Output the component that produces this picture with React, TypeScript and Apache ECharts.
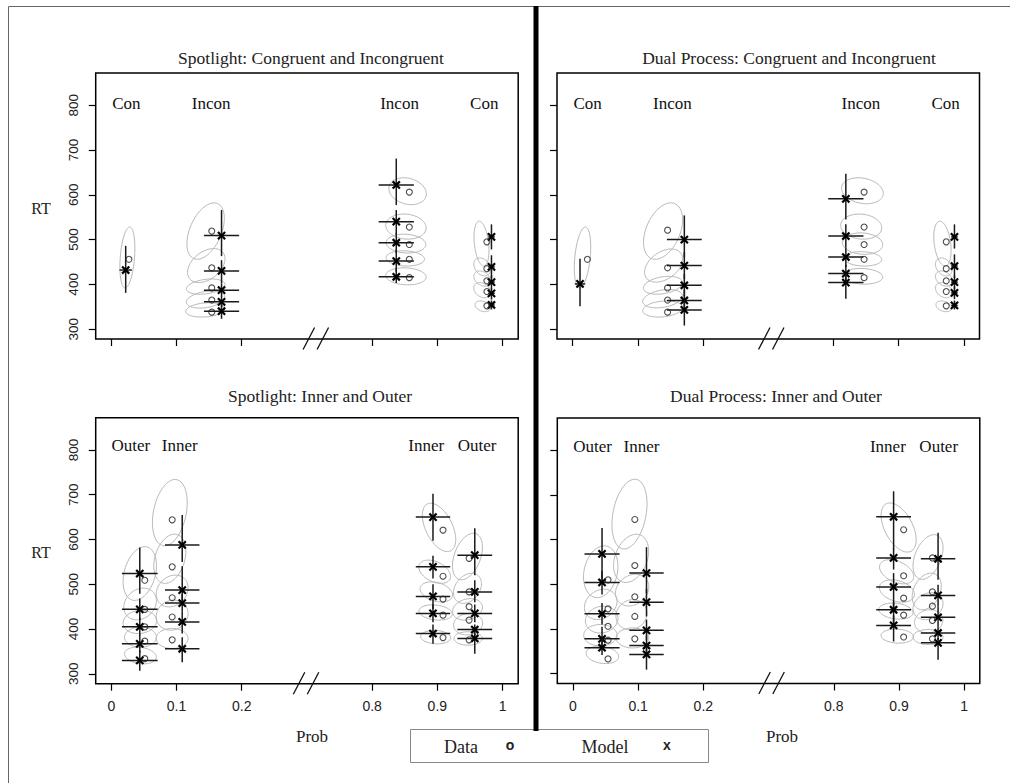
import React, { useEffect, useRef } from "react";
import * as echarts from "echarts";

// ---------- axis ticks ----------
const xTickProbs = [0, 0.1, 0.2, 0.8, 0.9, 1];
const yTickValues = [300, 400, 500, 600, 700, 800];

// ---------- panel titles & group labels ----------
const panelTitles = [
  "Spotlight: Congruent and Incongruent",
  "Dual Process: Congruent and Incongruent",
  "Spotlight: Inner and Outer",
  "Dual Process: Inner and Outer",
];
const ciLabels: [string, number][] = [["Con", 0.023], ["Incon", 0.153], ["Incon", 0.842], ["Con", 0.972]];
const ioLabels: [string, number][] = [["Outer", 0.03], ["Inner", 0.105], ["Inner", 0.883], ["Outer", 0.961]];

// ---------- Panel 1: Spotlight, Congruent / Incongruent ----------
// data circles [prob, RT]
const p1Data: number[][] = [
  [0.027, 456],
  [0.154, 519], [0.154, 437], [0.154, 392], [0.154, 365], [0.154, 338],
  [0.857, 606], [0.857, 528], [0.857, 489], [0.857, 456], [0.857, 415],
  [0.976, 495], [0.976, 435], [0.976, 408], [0.976, 384], [0.976, 352],
];
// model [prob, RT, RTlow, RThigh, probHalfWidth]
const p1Model: number[][] = [
  [0.022, 432, 381, 486, 0.0095],
  [0.169, 509, 463, 566, 0.027], [0.169, 430, 402, 454, 0.027], [0.169, 387, 372, 402, 0.027], [0.169, 361, 349, 373, 0.027], [0.169, 340, 323, 355, 0.027],
  [0.837, 622, 577, 681, 0.027], [0.837, 540, 512, 566, 0.027], [0.837, 493, 470, 515, 0.027], [0.837, 452, 428, 478, 0.027], [0.837, 417, 403, 436, 0.027],
  [0.983, 506, 478, 534, 0.005], [0.983, 439, 414, 465, 0.005], [0.983, 405, 390, 420, 0.005], [0.983, 380, 366, 392, 0.005], [0.983, 354, 344, 364, 0.005],
];
// ellipses [prob, RT, sdProb, sdRT, corr]
const p1Ellipse: number[][] = [
  [0.0246, 460, 0.0115, 68, 0.3],
  [0.1446, 519, 0.0287, 63, 0.45], [0.1456, 442, 0.0287, 38, 0.4], [0.1446, 395, 0.0295, 17, 0.3], [0.1446, 366, 0.0295, 19, 0.3], [0.1441, 343, 0.03, 16, 0.2],
  [0.8544, 608, 0.0287, 30, -0.2], [0.8518, 529, 0.031, 28, -0.1], [0.8518, 491, 0.0305, 21, -0.1], [0.8508, 458, 0.0295, 17, -0.1], [0.8518, 418, 0.031, 19, -0.1],
  [0.9677, 491, 0.0115, 50, -0.3], [0.9687, 439, 0.0128, 20, -0.3], [0.9687, 413, 0.0128, 17, -0.3], [0.9687, 387, 0.0128, 17, -0.3], [0.9697, 351, 0.012, 12, -0.3],
];

// ---------- Panel 2: Dual Process, Congruent / Incongruent ----------
const p2Data: number[][] = [
  [0.0226, 456],
  [0.1456, 521], [0.1456, 437], [0.1456, 392], [0.1456, 365], [0.1456, 338],
  [0.847, 606], [0.847, 528], [0.847, 489], [0.847, 456], [0.847, 415],
  [0.973, 495], [0.973, 435], [0.973, 408], [0.973, 384], [0.973, 352],
];
const p2Model: number[][] = [
  [0.0113, 401, 351, 457, 0.008],
  [0.1713, 500, 460, 554, 0.0267], [0.1713, 442, 412, 472, 0.0267], [0.1713, 398, 373, 423, 0.0267], [0.1713, 364, 340, 388, 0.0267], [0.1713, 343, 308, 366, 0.0267],
  [0.819, 591, 545, 647, 0.027], [0.819, 508, 483, 534, 0.027], [0.819, 461, 439, 483, 0.027], [0.819, 424, 404, 444, 0.027], [0.819, 404, 368, 424, 0.027],
  [0.9856, 506, 480, 534, 0.005], [0.9856, 441, 414, 467, 0.005], [0.9856, 405, 390, 420, 0.005], [0.9856, 381, 367, 395, 0.005], [0.9856, 353, 344, 364, 0.005],
];
const p2Ellipse: number[][] = [
  [0.0151, 460, 0.0126, 68, 0.35],
  [0.1387, 519, 0.03, 63, 0.4], [0.1395, 442, 0.0292, 37, 0.4], [0.1385, 398, 0.03, 20, 0.3], [0.138, 368, 0.0305, 20.5, 0.3], [0.138, 345, 0.0305, 18, 0.2],
  [0.8444, 609, 0.032, 29, -0.2], [0.8426, 529, 0.0315, 28, -0.1], [0.8446, 491, 0.031, 24, -0.1], [0.8451, 457, 0.029, 16, -0.1], [0.8446, 418, 0.031, 17.5, -0.1],
  [0.9672, 491, 0.0133, 50, -0.3], [0.9692, 439, 0.0128, 20, -0.3], [0.9692, 413, 0.0128, 17, -0.3], [0.9692, 387, 0.0128, 17, -0.3], [0.9692, 351, 0.012, 12, -0.3],
];

// ---------- Panel 3: Spotlight, Inner / Outer ----------
const p3Data: number[][] = [
  [0.0513, 509], [0.0513, 444], [0.0513, 405], [0.0513, 373], [0.0513, 334],
  [0.0933, 644], [0.0933, 539], [0.0933, 470], [0.0933, 427], [0.0933, 376],
  [0.9087, 621], [0.9087, 518], [0.9087, 467], [0.9087, 431], [0.9087, 381],
  [0.9487, 558], [0.9487, 483], [0.9487, 450], [0.9487, 420], [0.9487, 376],
];
const p3Model: number[][] = [
  [0.0436, 524, 479, 582, 0.0274], [0.0436, 444, 420, 468, 0.0274], [0.0436, 405, 385, 425, 0.0274], [0.0436, 367, 347, 387, 0.0274], [0.0436, 330, 307, 352, 0.0274],
  [0.1087, 588, 550, 655, 0.0264], [0.1087, 487, 460, 540, 0.0264], [0.1087, 458, 440, 478, 0.0264], [0.1087, 416, 390, 440, 0.0264], [0.1087, 356, 326, 382, 0.0264],
  [0.8933, 650, 597, 702, 0.0264], [0.8933, 539, 513, 564, 0.0264], [0.8933, 473, 445, 500, 0.0264], [0.8933, 435, 415, 455, 0.0264], [0.8933, 390, 367, 410, 0.0264],
  [0.9574, 565, 520, 625, 0.0267], [0.9574, 483, 460, 509, 0.0267], [0.9574, 435, 415, 455, 0.0267], [0.9574, 399, 385, 410, 0.0267], [0.9574, 379, 345, 390, 0.0267],
];
const p3Ellipse: number[][] = [
  [0.0436, 524, 0.0256, 60, 0.3], [0.0441, 456, 0.025, 35.5, 0.2], [0.0436, 416, 0.0256, 26, 0.1], [0.0446, 382, 0.0244, 22.4, 0], [0.0446, 341, 0.0244, 18.7, -0.2],
  [0.0897, 660, 0.0267, 74, 0.3], [0.0897, 557, 0.0246, 55, 0.3], [0.0933, 485, 0.0244, 35.5, 0.2], [0.0933, 431, 0.0244, 33.6, 0.1], [0.0933, 379, 0.0244, 22.4, 0],
  [0.9026, 627, 0.0256, 54, -0.5], [0.8959, 528, 0.0244, 26, -0.4], [0.8985, 483, 0.0249, 22.4, -0.3], [0.8974, 437, 0.0256, 17, -0.2], [0.8974, 382, 0.0231, 15, -0.1],
  [0.9462, 562, 0.023, 52, 0.4], [0.9462, 491, 0.0215, 33.6, 0.3], [0.9462, 444, 0.023, 24, 0.2], [0.9472, 411, 0.0223, 24, 0.1], [0.9472, 379, 0.0218, 15, 0],
];

// ---------- Panel 4: Dual Process, Inner / Outer ----------
const p4Data: number[][] = [
  [0.0538, 510], [0.0538, 445], [0.0538, 406], [0.0538, 375], [0.0538, 333],
  [0.0949, 645], [0.0949, 542], [0.0949, 472], [0.0949, 428], [0.0949, 378],
  [0.9072, 622], [0.9072, 519], [0.9072, 469], [0.9072, 431], [0.9072, 382],
  [0.9513, 559], [0.9513, 483], [0.9513, 451], [0.9513, 419], [0.9513, 378],
];
const p4Model: number[][] = [
  [0.0446, 568, 510, 626, 0.0269], [0.0446, 504, 477, 530, 0.0269], [0.0446, 434, 410, 458, 0.0269], [0.0446, 378, 355, 405, 0.0269], [0.0446, 358, 342, 380, 0.0269],
  [0.1128, 525, 480, 583, 0.0264], [0.1128, 460, 428, 490, 0.0264], [0.1128, 397, 375, 421, 0.0264], [0.1128, 363, 340, 385, 0.0264], [0.1128, 343, 309, 360, 0.0264],
  [0.8918, 651, 578, 708, 0.0267], [0.8918, 559, 533, 580, 0.0267], [0.8918, 494, 448, 525, 0.0267], [0.8918, 443, 410, 460, 0.0267], [0.8918, 408, 372, 430, 0.0267],
  [0.96, 557, 510, 615, 0.0264], [0.96, 475, 450, 499, 0.0264], [0.96, 426, 405, 450, 0.0264], [0.96, 391, 375, 405, 0.0264], [0.96, 369, 331, 380, 0.0264],
];
const p4Ellipse: number[][] = [
  [0.0426, 528, 0.0264, 58, 0.2], [0.0426, 455, 0.025, 34, 0.2], [0.0441, 421, 0.025, 30, 0.1], [0.0421, 386, 0.0256, 24, 0], [0.0451, 342, 0.025, 19.4, -0.2],
  [0.0867, 657, 0.0269, 78, 0.3], [0.0892, 558, 0.0269, 54, 0.3], [0.0908, 487, 0.0256, 35.5, 0.2], [0.0897, 432, 0.0238, 33.6, 0.1], [0.0913, 380, 0.0251, 22.4, 0],
  [0.8995, 627, 0.0269, 55, -0.5], [0.8964, 528, 0.0262, 27, -0.4], [0.8969, 485, 0.0269, 25, -0.3], [0.8954, 440, 0.0262, 18, -0.2], [0.8974, 384, 0.0249, 15.7, -0.1],
  [0.9446, 561, 0.023, 50, 0.4], [0.9426, 484, 0.0223, 41, 0.3], [0.9446, 451, 0.023, 30, 0.2], [0.9456, 417, 0.0218, 26, 0.1], [0.9446, 382, 0.023, 16.8, 0],
];

// broken x axis: probabilities above 0.5 are shifted left by 0.4
const toAxis = (p: number) => (p <= 0.5 ? p : p - 0.4);
const fromAxis = (u: number) => (u <= 0.25 ? u : u + 0.4);
const breakProbs = [0.314, 0.305, 0.299, 0.305];

const SERIF = '"Liberation Serif", "Times New Roman", serif';
const SANS = '"Liberation Sans", Arial, sans-serif';

const grids = [
  { left: 95.7, top: 73, width: 422.5, height: 266 },
  { left: 557, top: 73, width: 422.5, height: 266 },
  { left: 95.7, top: 417.7, width: 422.5, height: 266 },
  { left: 557.3, top: 418, width: 422.5, height: 265.5 },
];

function renderEllipse(_p: any, api: any) {
  const cx = api.value(0), cy = api.value(1), sx = api.value(2), sy = api.value(3), r = api.value(4);
  const q = Math.sqrt(1 - r * r);
  const pts: number[][] = [];
  for (let i = 0; i <= 72; i++) {
    const t = (i / 72) * Math.PI * 2;
    pts.push(api.coord([cx + sx * Math.cos(t), cy + sy * (r * Math.cos(t) + q * Math.sin(t))]));
  }
  return { type: "polygon", shape: { points: pts }, style: { fill: "none", stroke: "#b8b8b8", lineWidth: 1 } };
}

function renderModel(_p: any, api: any) {
  const u = api.value(0), y = api.value(1), lo = api.value(2), hi = api.value(3), h = api.value(4);
  const c = api.coord([u, y]);
  const t = api.coord([u, hi]);
  const b = api.coord([u, lo]);
  const l = api.coord([u - h, y]);
  const r = api.coord([u + h, y]);
  const s = 3.6;
  const bar = { stroke: "#1a1a1a", lineWidth: 1.5 };
  const mk = { stroke: "#000", lineWidth: 2.2 };
  return {
    type: "group",
    children: [
      { type: "line", shape: { x1: c[0], y1: t[1], x2: c[0], y2: b[1] }, style: bar },
      { type: "line", shape: { x1: l[0], y1: c[1], x2: r[0], y2: c[1] }, style: bar },
      { type: "line", shape: { x1: c[0] - s, y1: c[1] - s, x2: c[0] + s, y2: c[1] + s }, style: mk },
      { type: "line", shape: { x1: c[0] - s, y1: c[1] + s, x2: c[0] + s, y2: c[1] - s }, style: mk },
    ],
  };
}

function renderLabel(_p: any, api: any) {
  const c = api.coord([api.value(0), api.value(1)]);
  return {
    type: "text",
    x: c[0],
    y: c[1],
    style: {
      text: api.value(2),
      textAlign: "center",
      textVerticalAlign: "middle",
      fontSize: 17,
      fontFamily: SERIF,
      fill: "#111",
    },
  };
}

function renderBreak(_p: any, api: any) {
  const c = api.coord([api.value(0), api.value(1)]);
  const st = { stroke: "#111", lineWidth: 1.3 };
  return {
    type: "group",
    children: [
      { type: "line", shape: { x1: c[0] - 13, y1: c[1] + 10.5, x2: c[0] - 1.5, y2: c[1] - 11.5 }, style: st },
      { type: "line", shape: { x1: c[0] + 1, y1: c[1] + 10.5, x2: c[0] + 12.5, y2: c[1] - 11.5 }, style: st },
    ],
  };
}

export default function App() {
  const ref = useRef<HTMLDivElement>(null);

  useEffect(() => {
    if (!ref.current) return;
    const chart = echarts.init(ref.current, undefined, { renderer: "svg" });

    const panels = [
      { data: p1Data, model: p1Model, ell: p1Ellipse, labels: ciLabels, labelY: 804 },
      { data: p2Data, model: p2Model, ell: p2Ellipse, labels: ciLabels, labelY: 804 },
      { data: p3Data, model: p3Model, ell: p3Ellipse, labels: ioLabels, labelY: 809 },
      { data: p4Data, model: p4Model, ell: p4Ellipse, labels: ioLabels, labelY: 809 },
    ];

    const xTickAxis = xTickProbs.map(toAxis);

    const xAxes = grids.map((_, i) => ({
      gridIndex: i,
      type: "value",
      min: -0.024,
      max: 0.624,
      axisLine: { show: false, onZero: false },
      splitLine: { show: false },
      axisTick: { show: true, inside: false, length: 7, customValues: xTickAxis, lineStyle: { color: "#000", width: 1.2 } },
      axisLabel: {
        show: i >= 2,
        customValues: xTickAxis,
        margin: 15,
        fontFamily: SANS,
        fontSize: 14,
        color: "#222",
        formatter: (v: number) => String(+fromAxis(v).toFixed(1)),
      },
    }));

    const yAxes = grids.map((_, i) => ({
      gridIndex: i,
      type: "value",
      min: 278,
      max: 872,
      axisLine: { show: false, onZero: false },
      splitLine: { show: false },
      axisTick: { show: true, inside: false, length: 7, customValues: yTickValues, lineStyle: { color: "#000", width: 1.2 } },
      axisLabel: {
        show: i % 2 === 0,
        customValues: yTickValues,
        rotate: 90,
        margin: 15,
        fontFamily: SANS,
        fontSize: 13.5,
        color: "#222",
      },
    }));

    const series: any[] = [];
    panels.forEach((pn, i) => {
      series.push({
        type: "custom",
        xAxisIndex: i,
        yAxisIndex: i,
        renderItem: renderEllipse,
        data: pn.ell.map((e) => [toAxis(e[0]), e[1], e[2], e[3], e[4]]),
        encode: { x: 0, y: 1 },
        silent: true,
        z: 1,
      });
      series.push({
        type: "custom",
        xAxisIndex: i,
        yAxisIndex: i,
        renderItem: renderModel,
        data: pn.model.map((m) => [toAxis(m[0]), m[1], m[2], m[3], m[4]]),
        encode: { x: 0, y: 1 },
        silent: true,
        z: 3,
      });
      series.push({
        type: "scatter",
        xAxisIndex: i,
        yAxisIndex: i,
        symbol: "circle",
        symbolSize: 6,
        itemStyle: { color: "rgba(255,255,255,0)", borderColor: "#222", borderWidth: 1.1 },
        data: pn.data.map((d) => [toAxis(d[0]), d[1]]),
        silent: true,
        z: 4,
      });
      series.push({
        type: "custom",
        xAxisIndex: i,
        yAxisIndex: i,
        renderItem: renderLabel,
        data: pn.labels.map((l) => [toAxis(l[1]), pn.labelY, l[0]]),
        dimensions: ["x", "y", { name: "t", type: "ordinal" }],
        encode: { x: 0, y: 1 },
        silent: true,
        z: 5,
      });
      series.push({
        type: "custom",
        xAxisIndex: i,
        yAxisIndex: i,
        renderItem: renderBreak,
        data: [[toAxis(breakProbs[i]), 278]],
        encode: { x: 0, y: 1 },
        silent: true,
        clip: false,
        z: 5,
      });
    });

    const titleStyle = (text: string, x: number, y: number) => ({
      type: "text",
      x,
      y,
      style: { text, textAlign: "center", textVerticalAlign: "middle", fontSize: 17.5, fontFamily: SERIF, fill: "#222" },
    });
    const plainText = (text: string, x: number, y: number, size: number, family = SERIF, weight = "normal") => ({
      type: "text",
      x,
      y,
      style: { text, textAlign: "center", textVerticalAlign: "middle", fontSize: size, fontFamily: family, fontWeight: weight, fill: "#222" },
    });

    const graphic: any[] = [
      { type: "rect", shape: { x: 8.5, y: 6.5, width: 1010, height: 800 }, style: { fill: "none", stroke: "#666", lineWidth: 1 }, z: 0 },
      titleStyle(panelTitles[0], 311, 58),
      titleStyle(panelTitles[1], 789, 58),
      titleStyle(panelTitles[2], 320, 396),
      titleStyle(panelTitles[3], 776, 396),
      plainText("RT", 41, 208, 16),
      plainText("RT", 41, 552, 16),
      plainText("Prob", 312, 736, 17),
      plainText("Prob", 782, 736, 17),
      { type: "rect", shape: { x: 410.5, y: 729.5, width: 298, height: 33 }, style: { fill: "#fff", stroke: "#888", lineWidth: 1 }, z: 10 },
      { type: "rect", shape: { x: 533.5, y: 6, width: 5, height: 725 }, style: { fill: "#000" }, z: 11 },
      { ...plainText("Data", 461, 747, 18), z: 12 },
      { ...plainText("o", 510, 745, 14, SANS, "bold"), z: 12 },
      { ...plainText("Model", 605, 747, 18), z: 12 },
      { ...plainText("x", 667, 745, 14, SANS, "bold"), z: 12 },
    ];

    chart.setOption({
      animation: false,
      backgroundColor: "#fff",
      grid: grids.map((g) => ({ ...g, show: true, borderColor: "#000", borderWidth: 1.5, backgroundColor: "transparent", containLabel: false })),
      xAxis: xAxes,
      yAxis: yAxes,
      series,
      graphic,
    });

    return () => chart.dispose();
  }, []);

  return <div ref={ref} style={{ position: "fixed", left: 0, top: 0, width: 1010, height: 783 }} />;
}
